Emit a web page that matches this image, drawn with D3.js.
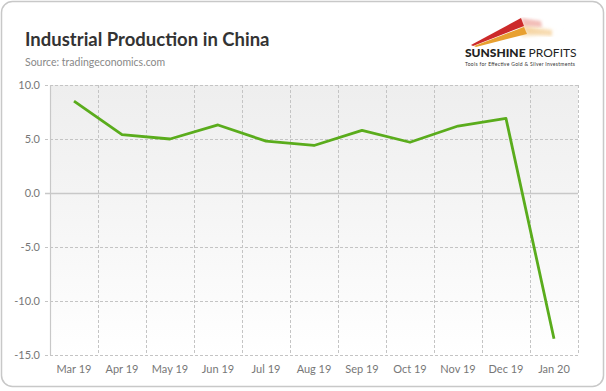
<!DOCTYPE html>
<html><head><meta charset="utf-8">
<script src="https://cdn.jsdelivr.net/npm/d3@7"></script>
<style>body{margin:0;background:#fff;}svg{display:block;font-family:Lato,"Open Sans",sans-serif;}</style>
</head><body>
<script>
const categories = ["Mar 19","Apr 19","May 19","Jun 19","Jul 19","Aug 19","Sep 19","Oct 19","Nov 19","Dec 19","Jan 20"];
const values = [8.5,5.4,5.0,6.3,4.8,4.4,5.8,4.7,6.2,6.9,-13.5];
const yTicks = [10,5,0,-5,-10,-15];

(function(){
const W=606,H=391;
const svg=d3.select("body").append("svg").attr("width",W).attr("height",H);
const defs=svg.append("defs");
const g1=defs.append("linearGradient").attr("id","bg").attr("x1",0).attr("y1",0).attr("x2",0).attr("y2",1);
g1.append("stop").attr("offset","0%").attr("stop-color","#eeeeee");
g1.append("stop").attr("offset","40%").attr("stop-color","#f4f4f4");
g1.append("stop").attr("offset","100%").attr("stop-color","#ffffff");
const fade=defs.append("linearGradient").attr("id","fade").attr("x1",0).attr("y1",0).attr("x2",1).attr("y2",0);
fade.append("stop").attr("offset","0%").attr("stop-color","#f5d9a8").attr("stop-opacity",0.8);
fade.append("stop").attr("offset","100%").attr("stop-color","#ffffff").attr("stop-opacity",0);
defs.append("filter").attr("id","blur").append("feGaussianBlur").attr("stdDeviation",1.5);

svg.append("rect").attr("x",1.5).attr("y",1.5).attr("width",602).attr("height",385).attr("rx",11)
  .attr("fill","#fff").attr("stroke","#c8c8c8").attr("stroke-width",1.5);

svg.append("text").attr("x",25).attr("y",46).attr("font-size",18.5).attr("font-weight","bold").attr("fill","#333")
  .text("Industrial Production in China");
svg.append("text").attr("x",25).attr("y",66).attr("font-size",10.5).attr("fill","#888").text("Source: tradingeconomics.com");

// logo
const lg=svg.append("g");
lg.append("path").attr("d","M518,24 L562,28 L562,36 L522,37 Z").attr("fill","url(#fade)").attr("filter","url(#blur)");
lg.append("path").attr("d","M521,18 L541,21 L542,27 L524,26 Z").attr("fill","#e88a80").attr("opacity",0.55).attr("filter","url(#blur)");
lg.append("path").attr("d","M524,27 L552,30 L552,36 L527,34 Z").attr("fill","#f2c27a").attr("opacity",0.55).attr("filter","url(#blur)");
lg.append("path").attr("d","M471,45 L521,18 L524,26 L473,46 Z").attr("fill","#cc2a2a");
lg.append("path").attr("d","M474,46 L524,27 L527,34 L476,47 Z").attr("fill","#e8a030");
const lt=lg.append("text").attr("x",465).attr("y",57).attr("font-size",12).attr("fill","#222").attr("font-family","Lato, sans-serif");
lt.append("tspan").attr("font-weight","900").text("SUNSHINE");
lt.append("tspan").attr("font-weight","normal").text(" PROFITS");
lg.append("text").attr("x",465).attr("y",66).attr("font-size",5).attr("fill","#333")
  .attr("textLength",110).text("Tools for Effective Gold & Silver Investments");

const pl=50,pr=578,pt=85,pb=355;
const x=d3.scaleBand().domain(categories).range([pl,pr]);
const y=d3.scaleLinear().domain([-15,10]).range([pb,pt]);

svg.append("rect").attr("x",pl).attr("y",pt).attr("width",pr-pl).attr("height",pb-pt).attr("fill","url(#bg)");

svg.append("g").selectAll("line").data(yTicks.filter(d=>d!==0)).join("line")
  .attr("x1",pl-5).attr("x2",pr).attr("y1",d=>y(d)+0.5).attr("y2",d=>y(d)+0.5)
  .attr("stroke","#c4c4c4").attr("stroke-dasharray","3,2");
const vx=categories.map(c=>x(c)+x.bandwidth());
svg.append("g").selectAll("line").data(vx).join("line")
  .attr("x1",d=>Math.round(d)+0.5).attr("x2",d=>Math.round(d)+0.5).attr("y1",pt).attr("y2",pb)
  .attr("stroke","#c4c4c4").attr("stroke-dasharray","3,2");
svg.append("line").attr("x1",pl-5).attr("x2",pr).attr("y1",y(0)+0.5).attr("y2",y(0)+0.5).attr("stroke","#c8c8c8").attr("stroke-width",1.5);
svg.append("line").attr("x1",pl+0.5).attr("x2",pl+0.5).attr("y1",pt).attr("y2",pb).attr("stroke","#c8c8c8").attr("stroke-width",1.2);

svg.append("g").selectAll("text").data(yTicks).join("text")
  .attr("x",40).attr("y",d=>y(d)+4).attr("text-anchor","end").attr("font-size",11).attr("fill","#777")
  .text(d=>d3.format(".1f")(d).replace("−","-"));
svg.append("g").selectAll("text").data(categories).join("text")
  .attr("x",d=>x(d)+x.bandwidth()/2).attr("y",373).attr("text-anchor","middle").attr("font-size",11).attr("fill","#777")
  .text(d=>d);

const line=d3.line().x((d,i)=>x(categories[i])+x.bandwidth()/2).y(d=>y(d));
svg.append("path").datum(values).attr("d",line).attr("fill","none").attr("stroke","#5aac1c").attr("stroke-width",2.8)
  .attr("stroke-linejoin","round");
})();
</script>
</body></html>
